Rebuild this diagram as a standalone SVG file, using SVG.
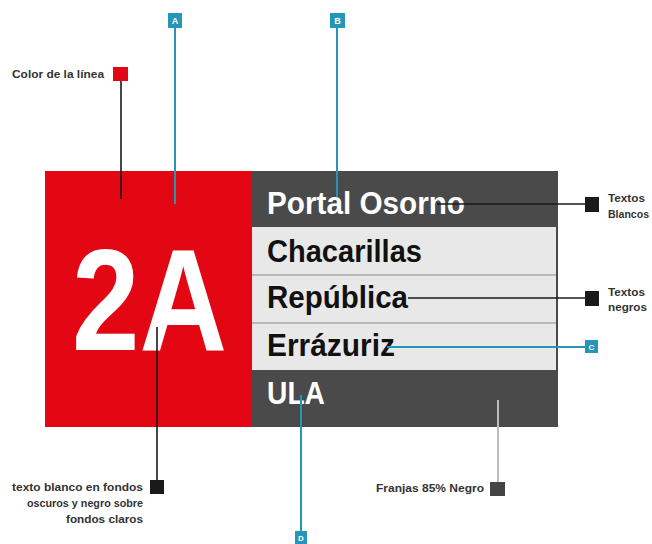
<svg xmlns="http://www.w3.org/2000/svg" width="652" height="544" viewBox="0 0 652 544">
<style>
.lbl{font-family:"Liberation Sans",Arial,sans-serif;font-weight:bold;font-size:11.5px;fill:#333}
.st{font-family:"Liberation Sans",Arial,sans-serif;font-weight:bold;font-size:32px}
.w{fill:#fff}.k{fill:#111}
.tag{font-family:"Liberation Sans",Arial,sans-serif;font-weight:bold;font-size:9px;fill:#fff;text-anchor:middle}
.teal{stroke:#2596b8;stroke-width:2;fill:none}
.blk{stroke:#1a1a1a;stroke-width:1.6;fill:none}
.sep{stroke:#aaa;stroke-width:1.5}
</style>
<rect width="652" height="544" fill="#fff"/>
<g id="sign">
<rect x="45" y="171" width="206" height="256" fill="#e30613"/>
<text x="72" y="350" class="st w" style="font-size:144px" textLength="155" lengthAdjust="spacingAndGlyphs">2A</text>
<rect x="251" y="171" width="307" height="256" fill="#4a4a4a"/>
<rect x="252" y="227" width="304" height="143" fill="#e8e8e8"/>
<line x1="252" y1="275" x2="556" y2="275" class="sep"/>
<line x1="252" y1="323" x2="556" y2="323" class="sep"/>
<text x="267" y="214" class="st w" textLength="198" lengthAdjust="spacingAndGlyphs">Portal Osorno</text>
<text x="267" y="262" class="st k" textLength="155" lengthAdjust="spacingAndGlyphs">Chacarillas</text>
<text x="267" y="308" class="st k" textLength="141" lengthAdjust="spacingAndGlyphs">República</text>
<text x="267" y="356" class="st k" textLength="128" lengthAdjust="spacingAndGlyphs">Errázuriz</text>
<text x="267" y="404" class="st w" textLength="58" lengthAdjust="spacingAndGlyphs">ULA</text>
</g>
<g id="connectors">
<line x1="121" y1="81" x2="121" y2="199" class="blk"/>
<line x1="175" y1="28" x2="175" y2="204" class="teal"/>
<line x1="337" y1="28" x2="337" y2="197" class="teal"/>
<line x1="437" y1="204" x2="586" y2="204" class="blk"/>
<line x1="408" y1="298" x2="586" y2="298" class="blk"/>
<line x1="387" y1="347" x2="586" y2="347" class="teal"/>
<line x1="301" y1="395" x2="301" y2="532" class="teal"/>
<line x1="498" y1="400" x2="498" y2="483" stroke="#bdbdbd" stroke-width="2"/>
<line x1="157" y1="327" x2="157" y2="480" class="blk"/>
</g>
<g id="color-linea">
<rect x="113" y="67" width="15" height="14" fill="#e30613"/>
<text x="12" y="78" class="lbl" textLength="92" lengthAdjust="spacingAndGlyphs">Color de la línea</text>
</g>
<g id="tag-a">
<rect x="168" y="13" width="14" height="15" fill="#2596b8"/>
<text x="175" y="24" class="tag">A</text>
</g>
<g id="tag-b">
<rect x="330" y="13" width="15" height="15" fill="#2596b8"/>
<text x="337.5" y="24" class="tag">B</text>
</g>
<g id="tag-c">
<rect x="585" y="340" width="13" height="13" fill="#2596b8"/>
<text x="591.5" y="350" class="tag" style="font-size:8px">C</text>
</g>
<g id="tag-d">
<rect x="295" y="531" width="12" height="13" fill="#2596b8"/>
<text x="301" y="541" class="tag" style="font-size:8px">D</text>
</g>
<g id="textos-blancos">
<rect x="585" y="197" width="14" height="15" fill="#1a1a1a"/>
<text x="608" y="202" class="lbl" textLength="37" lengthAdjust="spacingAndGlyphs">Textos</text>
<text x="608" y="218" class="lbl" textLength="41" lengthAdjust="spacingAndGlyphs">Blancos</text>
</g>
<g id="textos-negros">
<rect x="585" y="291" width="14" height="15" fill="#1a1a1a"/>
<text x="608" y="296" class="lbl" textLength="37" lengthAdjust="spacingAndGlyphs">Textos</text>
<text x="608" y="311" class="lbl" textLength="39" lengthAdjust="spacingAndGlyphs">negros</text>
</g>
<g id="franjas">
<rect x="490" y="482" width="15" height="14" fill="#444"/>
<text x="376" y="492" class="lbl" textLength="108" lengthAdjust="spacingAndGlyphs">Franjas 85% Negro</text>
</g>
<g id="texto-blanco">
<rect x="150" y="480" width="14" height="14" fill="#1a1a1a"/>
<text x="12" y="491" class="lbl" textLength="131" lengthAdjust="spacingAndGlyphs">texto blanco en fondos</text>
<text x="27" y="507" class="lbl" textLength="116" lengthAdjust="spacingAndGlyphs">oscuros y negro sobre</text>
<text x="66" y="523" class="lbl" textLength="77" lengthAdjust="spacingAndGlyphs">fondos claros</text>
</g>
</svg>
